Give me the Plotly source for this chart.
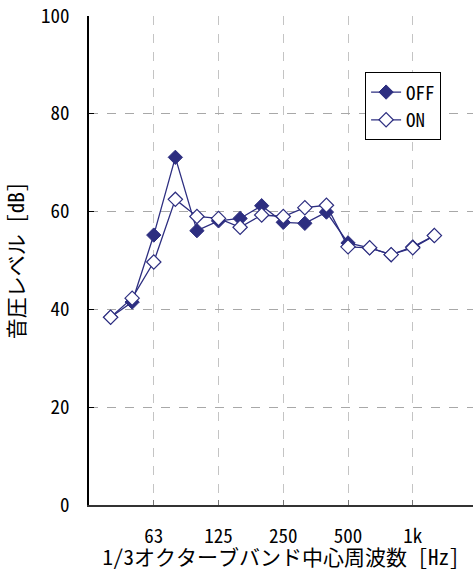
import plotly.graph_objects as go

bands = ["31.5", "40", "50", "63", "80", "100", "125", "160", "200", "250",
         "315", "400", "500", "630", "800", "1k", "1.25k", "1.6k", "2k"]
freqs = ["40", "50", "63", "80", "100", "125", "160", "200", "250", "315",
         "400", "500", "630", "800", "1k", "1.25k"]
off_vals = [38.4, 41.5, 55.2, 71.1, 56.1, 58.1, 58.6, 61.2, 57.8, 57.6,
            59.9, 53.6, 52.6, 51.2, 52.8, 55.1]
on_vals = [38.4, 42.3, 49.7, 62.5, 59.0, 58.6, 56.8, 59.3, 59.0, 60.8,
           61.3, 52.8, 52.6, 51.2, 52.6, 55.1]
tick_labels = ["63", "125", "250", "500", "1k"]
y_ticks = [0, 20, 40, 60, 80, 100]

xpos = [bands.index(f) for f in freqs]
tickpos = [bands.index(t) for t in tick_labels]

navy = "#2D2E80"
font = "Noto Sans Mono CJK JP, Noto Sans CJK JP, sans-serif"

fig = go.Figure()
fig.add_trace(go.Scatter(
    x=xpos, y=off_vals, name="OFF", mode="lines+markers",
    line=dict(color=navy, width=1.3),
    marker=dict(symbol="diamond", size=11, color=navy, line=dict(color=navy, width=1))))
fig.add_trace(go.Scatter(
    x=xpos, y=on_vals, name="ON", mode="lines+markers",
    line=dict(color=navy, width=1.3),
    marker=dict(symbol="diamond", size=11, color="white", line=dict(color=navy, width=1.2))))

fig.update_layout(
    width=473, height=571,
    margin=dict(l=89, r=0, t=16, b=66, autoexpand=False),
    paper_bgcolor="white", plot_bgcolor="white",
    font=dict(family=font, size=19, color="black"),
    showlegend=True,
    legend=dict(x=0.719, y=0.885, xanchor="left", yanchor="top",
                bgcolor="white", bordercolor="black", borderwidth=1,
                font=dict(family=font, size=19), itemwidth=30,
                tracegroupgap=0),
)
fig.update_xaxes(
    range=[0, 17.79], tickmode="array", tickvals=tickpos, ticktext=tick_labels,
    showgrid=True, gridcolor="#C4C4C4", griddash="dash", gridwidth=1,
    showline=True, linecolor="#333333", linewidth=1.5,
    ticks="inside", ticklen=5, tickcolor="#777777",
    ticklabelstandoff=13, zeroline=False, automargin=False,
    tickfont=dict(family=font, size=19),
    title=dict(text="1/3オクターブバンド中心周波数 [Hz]", standoff=11,
               font=dict(family=font, size=21)),
)
fig.update_yaxes(
    range=[0, 100], tickmode="array", tickvals=y_ticks,
    showgrid=True, gridcolor="#A8A8A8", griddash="dash", gridwidth=1,
    showline=True, linecolor="black", linewidth=1.5,
    ticks="inside", ticklen=5, tickcolor="black",
    ticklabelstandoff=14, zeroline=False, automargin=False,
    tickfont=dict(family=font, size=19),
    title=dict(text="音圧レベル [dB]", standoff=12,
               font=dict(family=font, size=21)),
)

fig.write_html("out.html", config={"displayModeBar": False},
               post_script="document.body.style.margin='0';")
